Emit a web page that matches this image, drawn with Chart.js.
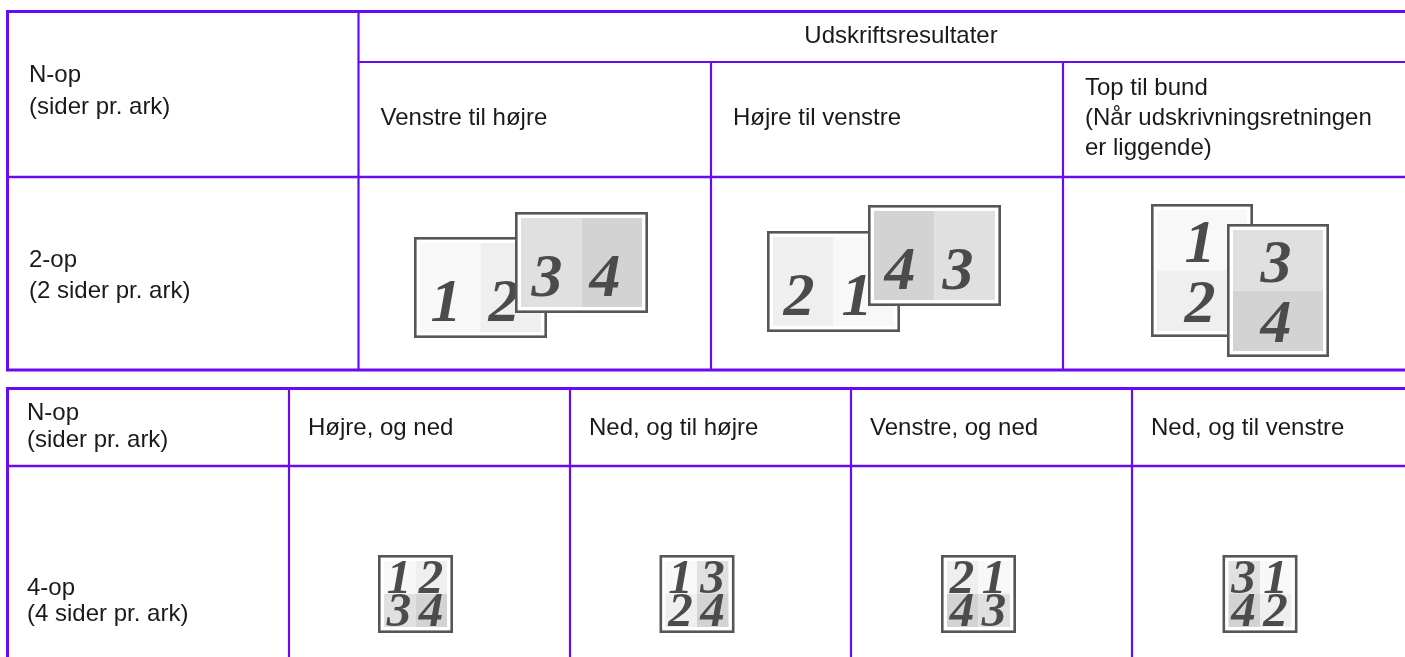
<!DOCTYPE html>
<html>
<head>
<meta charset="utf-8">
<script src="https://cdn.jsdelivr.net/npm/chart.js@4"></script>
<style>
  html, body { margin: 0; padding: 0; background: #fff; }
  #wrap { width: 1405px; height: 657px; }
</style>
</head>
<body>
<div id="wrap"><canvas id="layoutChart" width="1405" height="657"></canvas></div>
<script>
// ====== DATA ======
const nupLabel = ['N-op', '(sider pr. ark)'];
const resultsTitle = 'Udskriftsresultater';
const twoUpOrders = [
    ['Venstre til højre'],
    ['Højre til venstre'],
    ['Top til bund', '(Når udskrivningsretningen', 'er liggende)']
];
const twoUpLabel = ['2-op', '(2 sider pr. ark)'];
// per column: [first sheet pages, second sheet pages]
const twoUpSheets = [[[1, 2], [3, 4]], [[2, 1], [4, 3]], [[1, 2], [3, 4]]];
const fourUpOrders = ['Højre, og ned', 'Ned, og til højre', 'Venstre, og ned', 'Ned, og til venstre'];
const fourUpLabel = ['4-op', '(4 sider pr. ark)'];
// per column: top-left, top-right, bottom-left, bottom-right
const fourUpPages = [[1, 2, 3, 4], [1, 3, 2, 4], [2, 1, 4, 3], [3, 1, 4, 2]];

// ====== LAYOUT / STYLE ======
const PURPLE = '#6a0af0';
const EDGE = '#565656';
const DIGIT = '#4b4b4b';
const TEXT = '#1a1a1a';
const pageShade = { 1: '#f8f8f8', 2: '#efefef', 3: '#e0e0e0', 4: '#d3d3d3' };
const TEXT_FONT = '24px "Liberation Sans", Arial, sans-serif';

const t1 = { top: 11.5, bottom: 370, left: 7.5, right: 1405, cols: [358.5, 711, 1063], headSplit: 62, bodySplit: 177 };
const t2 = { top: 388.5, bottom: 657, left: 7.5, right: 1405, cols: [289, 570, 851, 1132], bodySplit: 466 };

// sheet boxes for the 2-up row (back sheet, front sheet)
const twoUpBoxes = [
    [{ x: 414, y: 237, w: 133, h: 101 }, { x: 515, y: 212, w: 133, h: 101 }],
    [{ x: 767, y: 231, w: 133, h: 101 }, { x: 868, y: 205, w: 133, h: 101 }],
    [{ x: 1151, y: 204, w: 102, h: 133 }, { x: 1227, y: 224, w: 102, h: 133 }]
];
const fourUpBox = { x: 378, y: 555, w: 75, h: 78, step: 281.5 };

// ====== DRAWING PLUGIN ======
const tablePlugin = {
    id: 'tableLayout',
    afterDatasetsDraw(chart) {
        const { ctx, scales: { x, y } } = chart;
        const px = v => x.getPixelForValue(v);
        const py = v => y.getPixelForValue(v);

        ctx.save();
        ctx.lineCap = 'butt';

        function hline(x1, x2, yy, w) {
            ctx.strokeStyle = PURPLE; ctx.lineWidth = w;
            ctx.beginPath(); ctx.moveTo(px(x1), py(yy)); ctx.lineTo(px(x2), py(yy)); ctx.stroke();
        }
        function vline(xx, y1, y2, w) {
            ctx.strokeStyle = PURPLE; ctx.lineWidth = w;
            ctx.beginPath(); ctx.moveTo(px(xx), py(y1)); ctx.lineTo(px(xx), py(y2)); ctx.stroke();
        }
        function lines(arr, xx, yMid, gap) {
            ctx.font = TEXT_FONT; ctx.fillStyle = TEXT;
            ctx.textAlign = 'left'; ctx.textBaseline = 'middle';
            const start = yMid - (arr.length - 1) * gap / 2;
            arr.forEach((s, i) => ctx.fillText(s, px(xx), py(start + i * gap)));
        }
        function digit(n, cx, base, size) {
            ctx.font = `italic bold ${size}px "Liberation Serif", "Times New Roman", serif`;
            ctx.fillStyle = DIGIT; ctx.textAlign = 'center'; ctx.textBaseline = 'alphabetic';
            ctx.fillText(String(n), px(cx), py(base));
        }
        function sheet(b, cells) {
            // white sheet with grey edge, then shaded page cells
            ctx.fillStyle = '#fff';
            ctx.fillRect(px(b.x), py(b.y), b.w, b.h);
            ctx.strokeStyle = EDGE; ctx.lineWidth = 2.6;
            ctx.strokeRect(px(b.x + 1.3), py(b.y + 1.3), b.w - 2.6, b.h - 2.6);
            cells.forEach(c => {
                ctx.fillStyle = pageShade[c.n];
                ctx.fillRect(px(c.x), py(c.y), c.w, c.h);
            });
        }

        // ---- table 1 ----
        hline(t1.left - 1.5, t1.right, t1.top, 3);
        hline(t1.left - 1.5, t1.right, t1.bottom, 3);
        vline(t1.left, t1.top, t1.bottom, 3);
        vline(t1.cols[0], t1.top, t1.bottom, 2.2);
        hline(t1.cols[0], t1.right, t1.headSplit, 2.2);
        hline(t1.left, t1.right, t1.bodySplit, 2.6);
        t1.cols.slice(1).forEach(c => vline(c, t1.headSplit, t1.bottom, 2.2));

        lines(nupLabel, 29, 91, 32);
        ctx.font = TEXT_FONT; ctx.fillStyle = TEXT; ctx.textAlign = 'center'; ctx.textBaseline = 'middle';
        ctx.fillText(resultsTitle, px(901), py(36));
        twoUpOrders.forEach((arr, i) => lines(arr, t1.cols[i] + 22, 118, 30));
        lines(twoUpLabel, 29, 276, 31);

        // 2-up sheets
        twoUpSheets.forEach((pair, i) => {
            pair.forEach((pages, s) => {
                const b = twoUpBoxes[i][s];
                const ins = 6;
                const iw = b.w - 2 * ins, ih = b.h - 2 * ins;
                if (b.w > b.h) {
                    const half = iw / 2;
                    sheet(b, [
                        { n: pages[0], x: b.x + ins, y: b.y + ins, w: half, h: ih },
                        { n: pages[1], x: b.x + ins + half, y: b.y + ins, w: half, h: ih }
                    ]);
                    digit(pages[0], b.x + 32, b.y + 84, 62);
                    digit(pages[1], b.x + 90, b.y + 84, 62);
                } else {
                    const half = ih / 2;
                    sheet(b, [
                        { n: pages[0], x: b.x + ins, y: b.y + ins, w: iw, h: half },
                        { n: pages[1], x: b.x + ins, y: b.y + ins + half, w: iw, h: half }
                    ]);
                    digit(pages[0], b.x + 49, b.y + 58, 62);
                    digit(pages[1], b.x + 49, b.y + 118, 62);
                }
            });
        });

        // ---- table 2 ----
        hline(t2.left - 1.5, t2.right, t2.top, 3);
        vline(t2.left, t2.top, t2.bottom, 3);
        hline(t2.left, t2.right, t2.bodySplit, 2.6);
        t2.cols.forEach(c => vline(c, t2.top, t2.bottom, 2.2));

        lines(nupLabel, 27, 427, 27);
        fourUpOrders.forEach((s, i) => lines([s], t2.cols[i] + 19, 428, 27));
        lines(fourUpLabel, 27, 601, 26);

        // 4-up sheets
        fourUpPages.forEach((pages, i) => {
            const b = { x: fourUpBox.x + i * fourUpBox.step, y: fourUpBox.y, w: fourUpBox.w, h: fourUpBox.h };
            const ins = 6;
            const hw = (b.w - 2 * ins) / 2, hh = (b.h - 2 * ins) / 2;
            sheet(b, [
                { n: pages[0], x: b.x + ins, y: b.y + ins, w: hw, h: hh },
                { n: pages[1], x: b.x + ins + hw, y: b.y + ins, w: hw, h: hh },
                { n: pages[2], x: b.x + ins, y: b.y + ins + hh, w: hw, h: hh },
                { n: pages[3], x: b.x + ins + hw, y: b.y + ins + hh, w: hw, h: hh }
            ]);
            digit(pages[0], b.x + 21, b.y + 38, 49);
            digit(pages[1], b.x + 53, b.y + 38, 49);
            digit(pages[2], b.x + 21, b.y + 71, 49);
            digit(pages[3], b.x + 53, b.y + 71, 49);
        });

        ctx.restore();
    }
};

// ====== CHART ======
const ctx = document.getElementById('layoutChart').getContext('2d');
new Chart(ctx, {
    type: 'scatter',
    data: { datasets: [{ data: [], pointRadius: 0 }] },
    options: {
        responsive: false,
        animation: false,
        layout: { padding: 0 },
        plugins: { legend: { display: false }, tooltip: { enabled: false } },
        scales: {
            x: { type: 'linear', min: 0, max: 1405, display: false },
            y: { type: 'linear', min: 0, max: 657, reverse: true, display: false }
        }
    },
    plugins: [tablePlugin]
});
</script>
</body>
</html>
